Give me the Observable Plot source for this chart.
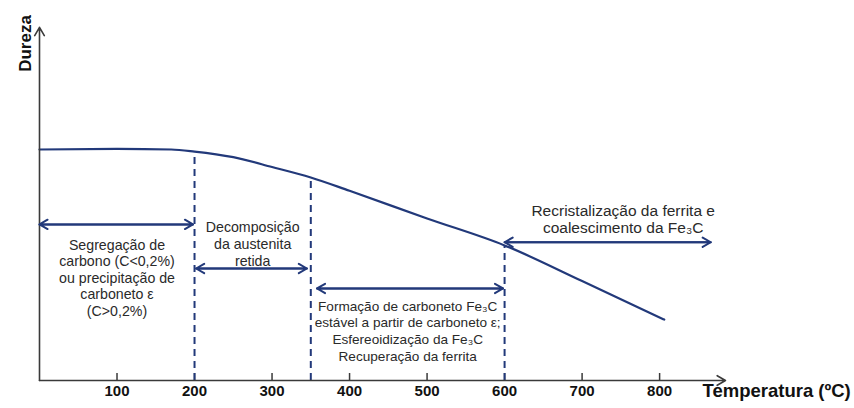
<!DOCTYPE html>
<html>
<head>
<meta charset="utf-8">
<script src="https://cdn.jsdelivr.net/npm/d3@7"></script>
<script src="https://cdn.jsdelivr.net/npm/@observablehq/plot@0.6"></script>
<style>
  html, body { margin: 0; padding: 0; background: #fff; }
  #chart svg { display: block; }
</style>
</head>
<body>
<div id="chart"></div>
<script>
// Hardness curve (arbitrary units) vs temperature (ºC)
const temperatures = [0, 100, 170, 200, 250, 300, 350, 400, 500, 600, 700, 806];
const hardness     = [66, 66.2, 66, 65.4, 63.8, 61, 58, 54.2, 46.3, 38.6, 28.4, 17.4];

// Stage boundaries (dashed lines)
const boundaries = [200, 350, 600];

// x tick labels
const tickLabels = [100, 200, 300, 400, 500, 600, 700, 800];

// Double-headed range arrows
const arrowStarts = [0, 202, 358, 600];
const arrowEnds   = [198, 345, 598, 866];
const arrowLevels = [44.6, 32, 26.3, 39.5];

// Stage descriptions
const stageTexts = [
  "Segregação de\ncarbono (C<0,2%)\nou precipitação de\ncarboneto ε\n(C>0,2%)",
  "Decomposição\nda austenita\nretida",
  "Formação de carboneto Fe₃C\nestável a partir de carboneto ε;\nEsfereoidização da Fe₃C\nRecuperação da ferrita",
  "Recristalização da ferrita e\ncoalescimento da Fe₃C"
];
const stageTextX = [100, 275, 475, 753];
const stageTextY = [29.4, 39.1, 14.3, 46.1];

const xLabel = "Temperatura (ºC)";
const yLabel = "Dureza";

const curve = temperatures.map((t, i) => ({t, h: hardness[i]}));
const hAt = t => curve.find(d => d.t === t).h;
const bounds = boundaries.map(t => ({t, h: hAt(t)}));
const arrows = arrowStarts.map((a, i) => ({a, b: arrowEnds[i], y: arrowLevels[i]}));
const stages = stageTexts.map((s, i) => ({s, x: stageTextX[i], y: stageTextY[i]}));

const navy = "#22397a";
const axisColor = "#3a3a3a";
const textColor = "#2a2a2a";
const xMax = 885, yMax = 100;
const axisFont = "'Liberation Sans', Arial, sans-serif";

// per-stage text styling
const stageStyles = [
  {fontSize: 14.2, lineHeight: 1.16},
  {fontSize: 14.2, lineHeight: 1.2},
  {fontSize: 13.6, lineHeight: 1.23},
  {fontSize: 15.5, lineHeight: 1.1}
];

const chart = Plot.plot({
  width: 854,
  height: 408,
  marginLeft: 39,
  marginRight: 129,
  marginTop: 30,
  marginBottom: 28,
  style: {fontFamily: axisFont, color: "#222", background: "#fff"},
  x: {domain: [0, xMax], axis: null},
  y: {domain: [0, yMax], axis: null},
  marks: [
    // tick labels
    Plot.axisX({ticks: tickLabels, tickSize: 0, tickPadding: 5, fontSize: 15, fontWeight: "bold",
      label: null, color: "#111"}),
    // tick marks above the axis
    Plot.ruleX(tickLabels, {y1: 0, y2: 2, stroke: axisColor, strokeWidth: 1.5}),
    // dashed boundaries
    Plot.ruleX(bounds, {x: "t", y1: 0, y2: "h", stroke: navy, strokeWidth: 2, strokeDasharray: "7,5"}),
    // curve
    Plot.line(curve, {x: "t", y: "h", stroke: navy, strokeWidth: 2.2, curve: "monotone-x"}),
    // axes with arrowheads
    Plot.arrow([0], {x1: 0, y1: 0, x2: xMax, y2: 0, stroke: axisColor, strokeWidth: 1.6, headLength: 9, inset: 0}),
    Plot.arrow([0], {x1: 0, y1: 0, x2: 0, y2: yMax + 0.9, stroke: axisColor, strokeWidth: 1.6, headLength: 9, inset: 0}),
    // range arrows (double-headed)
    Plot.arrow(arrows, {x1: "a", x2: "b", y1: "y", y2: "y", stroke: navy, strokeWidth: 2, headLength: 7, inset: 0}),
    Plot.arrow(arrows, {x1: "b", x2: "a", y1: "y", y2: "y", stroke: navy, strokeWidth: 2, headLength: 7, inset: 0}),
    // stage texts
    ...stages.map((d, i) => Plot.text([d], {x: "x", y: "y", text: "s", fill: textColor, ...stageStyles[i]})),
    // axis titles
    Plot.text([xLabel], {frameAnchor: "bottom-right", text: d => d, textAnchor: "start", dx: -23, dy: 16,
      fontSize: 18.5, fontWeight: "bold", fill: "#111"}),
    Plot.text([yLabel], {frameAnchor: "top-left", text: d => d, rotate: -90, textAnchor: "middle", dx: -21, dy: 13,
      fontSize: 17, fontWeight: "bold", fill: "#111"})
  ]
});
document.getElementById("chart").append(chart);
</script>
</body>
</html>
